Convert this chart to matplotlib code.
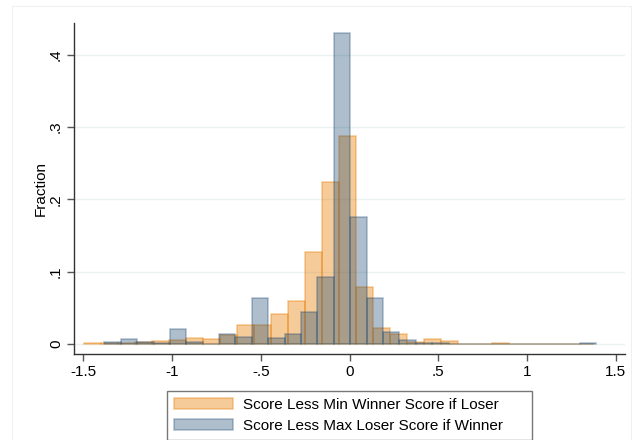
import numpy as np
import matplotlib
matplotlib.use("Agg")
import matplotlib.pyplot as plt
from matplotlib.patches import Patch, Rectangle

plt.rcParams['font.family'] = ['Liberation Sans', 'DejaVu Sans']

# histogram bins: first edge and bin width for each series (30 bins each)
loser_start, loser_width = -1.495, 0.0958
winner_start, winner_width = -1.382, 0.0924

# fraction per bin
loser_frac = [0.001, 0.001, 0.002, 0.0025, 0.004, 0.0055, 0.0087, 0.007, 0.012, 0.027,
              0.026, 0.041, 0.060, 0.127, 0.224, 0.288, 0.079, 0.022, 0.0138, 0.003,
              0.007, 0.004, 0.0005, 0.0005, 0.002, 0.0005, 0.0005, 0.0005, 0.0005, 0.0005]
winner_frac = [0.0025, 0.007, 0.0025, 0.001, 0.021, 0.0025, 0.0003, 0.0134, 0.010, 0.063,
               0.009, 0.0134, 0.044, 0.093, 0.430, 0.175, 0.064, 0.016, 0.0055, 0.002,
               0.001, 0.0005, 0.0005, 0.0003, 0.0003, 0.0005, 0.0002, 0.0002, 0.0002, 0.001]

labels = ['Score Less Min Winner Score if Loser',
          'Score Less Max Loser Score if Winner']
xticks = [-1.5, -1, -0.5, 0, 0.5, 1, 1.5]
xticklabels = ['-1.5', '-1', '-.5', '0', '.5', '1', '1.5']
yticks = [0, 0.1, 0.2, 0.3, 0.4]
yticklabels = ['0', '.1', '.2', '.3', '.4']

orange = (232/255, 126/255, 4/255, 0.40)
navy = (26/255, 71/255, 111/255, 0.35)

fig = plt.figure(figsize=(6.32, 4.4), dpi=100)
W, H = 632, 440

# faint graph-region frame
fig.patches.append(Rectangle((12/W, -0.05), (W - 13)/W, 1.05 - 6/H,
                             transform=fig.transFigure, fill=False,
                             edgecolor='#f0f0f0', linewidth=0.8))

ax = fig.add_axes([74/W, 1 - 354.3/H, (625 - 74)/W, (354.3 - 22.7)/H])

lo_left = loser_start + loser_width * np.arange(len(loser_frac))
wi_left = winner_start + winner_width * np.arange(len(winner_frac))

ax.bar(lo_left, loser_frac, width=loser_width, align='edge',
       facecolor=orange, edgecolor=orange, linewidth=1.1, zorder=2)
ax.bar(wi_left, winner_frac, width=winner_width, align='edge',
       facecolor=navy, edgecolor=navy, linewidth=1.1, zorder=3)

ax.set_xlim(-1.553, 1.553)
ax.set_ylim(-0.0142, 0.4444)

ax.set_yticks(yticks)
ax.set_yticklabels(yticklabels, rotation=90, va='center', fontsize=11)
ax.set_xticks(xticks)
ax.set_xticklabels(xticklabels, fontsize=11)
ax.tick_params(direction='out', length=5, width=1, color='#555555', pad=3)

for y in yticks:
    ax.axhline(y, color='#eaf2f3', linewidth=1, zorder=1)

ax.spines['top'].set_visible(False)
ax.spines['right'].set_visible(False)
for s in ('left', 'bottom'):
    ax.spines[s].set_color('#333333')
    ax.spines[s].set_linewidth(1)

ax.set_ylabel('Fraction', fontsize=11, labelpad=1)

handles = [Patch(facecolor=orange, edgecolor=orange, linewidth=1.1),
           Patch(facecolor=navy, edgecolor=navy, linewidth=1.1)]
leg = fig.legend(handles, labels, loc='upper left', mode='expand',
                 bbox_to_anchor=(167/W, 1 - 391/H, (532 - 167)/W, 0),
                 borderaxespad=0, frameon=True, fancybox=False, fontsize=11,
                 handlelength=3.9, handleheight=0.7, handletextpad=0.65,
                 labelspacing=0.45, borderpad=0.45)
leg.get_frame().set_edgecolor('#555555')
leg.get_frame().set_linewidth(1)

fig.savefig('out.png', dpi=100, facecolor='white')
